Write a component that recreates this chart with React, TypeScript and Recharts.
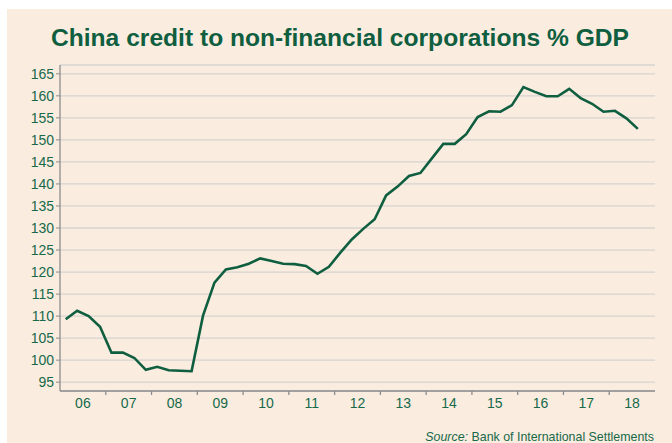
import { LineChart, Line, XAxis, YAxis, CartesianGrid } from "recharts";

// China credit to non-financial corporations, % of GDP, quarterly from 2006 Q1
const firstYear = 2006;
const quarterValues = [
  109.3, 111.2, 110.0, 107.6,
  101.7, 101.7, 100.5, 97.8,
  98.5, 97.7, 97.6, 97.5,
  110.1, 117.6, 120.6, 121.1,
  121.9, 123.1, 122.5, 121.9,
  121.8, 121.4, 119.6, 121.2,
  124.4, 127.4, 129.8, 132.0,
  137.4, 139.4, 141.8, 142.5,
  145.8, 149.1, 149.1, 151.3,
  155.2, 156.5, 156.4, 157.9,
  162.0, 160.9, 159.9, 159.9,
  161.6, 159.5, 158.2, 156.4,
  156.6, 154.9, 152.5,
];
const yearLabels = ["06", "07", "08", "09", "10", "11", "12", "13", "14", "15", "16", "17", "18"];
const yTicks = [95, 100, 105, 110, 115, 120, 125, 130, 135, 140, 145, 150, 155, 160, 165];

const data = quarterValues.map((v, i) => ({ t: firstYear + (i + 0.5) / 4, v }));
const yearTicks = yearLabels.map((_, i) => firstYear + i);

const W = 672;
const H = 443;
const margin = { top: 65, right: 17, left: 8, bottom: 22 };
const Y_AXIS_W = 52;
const plotW = W - margin.left - Y_AXIS_W - margin.right;
const halfYear = plotW / (yearLabels.length * 2);

const green = "#0f5e40";
const textGreen = "#17694a";
const axisGray = "#8c8c8c";
const font = "'Liberation Sans', Arial, sans-serif";

const YearTick = (props: any) => {
  const { x, y, payload } = props;
  const yr = payload.value as number;
  return (
    <g>
      {yr > firstYear && <line x1={x} x2={x} y1={y} y2={y + 4} stroke={axisGray} strokeWidth={1.3} />}
      <text x={x + halfYear} y={y + 17} textAnchor="middle" fill={textGreen} fontSize={14} fontFamily={font}>
        {yearLabels[yr - firstYear]}
      </text>
    </g>
  );
};

export default function App() {
  return (
    <div style={{ position: "fixed", left: 0, top: 0, width: W, height: H, background: "#fff", overflow: "hidden" }}>
      <div style={{ position: "absolute", left: 7, top: 9, right: 0, bottom: 0, background: "#faede0" }} />
      <div style={{ position: "absolute", left: 0, top: 0 }}>
        <LineChart width={W} height={H} data={data} margin={margin}>
          <CartesianGrid horizontal vertical={false} stroke="#d6d3cf" strokeWidth={1.3} />
          <XAxis
            dataKey="t"
            type="number"
            domain={[firstYear, firstYear + yearLabels.length]}
            ticks={yearTicks}
            tick={<YearTick />}
            tickLine={false}
            tickSize={0}
            tickMargin={0}
            height={30}
            axisLine={{ stroke: axisGray, strokeWidth: 1.3 }}
            interval={0}
          />
          <YAxis
            type="number"
            domain={[93, 167]}
            ticks={yTicks}
            width={Y_AXIS_W}
            tickSize={4}
            tickMargin={2}
            interval={0}
            axisLine={{ stroke: axisGray, strokeWidth: 1.3 }}
            tickLine={{ stroke: axisGray }}
            tick={{ fill: textGreen, fontSize: 14, fontFamily: font }}
          />
          <Line
            type="linear"
            dataKey="v"
            stroke={green}
            strokeWidth={2.6}
            dot={false}
            isAnimationActive={false}
          />
        </LineChart>
      </div>
      <svg width={W} height={H} style={{ position: "absolute", left: 0, top: 0, pointerEvents: "none" }}>
        <text x={340} y={46} textAnchor="middle" fill={green} fontSize={24.6} fontWeight="bold" fontFamily={font}>
          China credit to non-financial corporations % GDP
        </text>
        <text x={654} y={441} textAnchor="end" fill={textGreen} fontSize={12.4} fontFamily={font}>
          <tspan fontStyle="italic">Source:</tspan> Bank of International Settlements
        </text>
      </svg>
    </div>
  );
}
